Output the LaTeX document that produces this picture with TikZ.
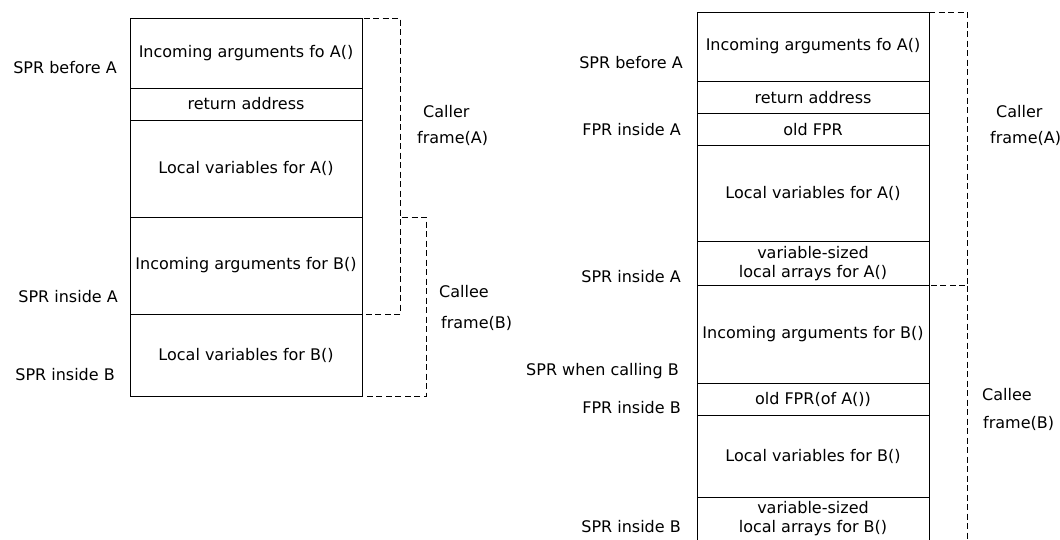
\documentclass[tikz,border=0pt]{standalone}
\usepackage{fontspec}
\setmainfont{DejaVu Sans}
\begin{document}
\begin{tikzpicture}[x=1pt,y=-1pt,
  every node/.style={font=\fontsize{16}{19}\selectfont},
  cell/.style={draw, line width=1pt, minimum width=232pt, inner sep=0pt, outer sep=0pt, anchor=north west, align=center},
  lbl/.style={anchor=east, inner sep=0pt},
  flbl/.style={anchor=west, inner sep=0pt},
  frame/.style={draw, dash pattern=on 6pt off 3.5pt, line width=1pt}]
\useasboundingbox (0,0) rectangle (1060,539);
% ---------- left stack ----------
\node[cell, minimum height=70pt] (a1) at (130,18) {Incoming arguments fo A()};
\node[cell, minimum height=32pt] (a2) at (a1.south west) {return address};
\node[cell, minimum height=97pt] (a3) at (a2.south west) {Local variables for A()};
\node[cell, minimum height=97pt] (a4) at (a3.south west) {Incoming arguments for B()};
\node[cell, minimum height=82pt] (a5) at (a4.south west) {Local variables for B()};
\node[lbl] (la1) at (117,68) {SPR before A};
\node[lbl] (la2) at (118,297) {SPR inside A};
\node[lbl] (la3) at (115,375) {SPR inside B};
\draw[frame] ([xshift=-27pt]a1.north east) -- ++(65,0) |- (a4.south east);
\draw[frame] ([xshift=40pt]a4.north east) -- ++(24,0) |- (a5.south east);
\node[flbl] (ca1) at (423,112) {Caller};
\node[flbl] (ca2) at (417,138) {frame(A)};
\node[flbl] (ce1) at (439,292) {Callee};
\node[flbl] (ce2) at (441,323) {frame(B)};
% ---------- right stack ----------
\node[cell, minimum height=69pt] (b1) at (697,12) {Incoming arguments fo A()};
\node[cell, minimum height=32.7pt] (b2) at (b1.south west) {return address};
\node[cell, minimum height=31.3pt] (b3) at (b2.south west) {old FPR};
\node[cell, minimum height=96.7pt] (b4) at (b3.south west) {Local variables for A()};
\node[cell, minimum height=44pt] (b5) at (b4.south west) {variable-sized\\local arrays for A()};
\node[cell, minimum height=97.6pt] (b6) at (b5.south west) {Incoming arguments for B()};
\node[cell, minimum height=31.7pt] (b7) at (b6.south west) {old FPR(of A())};
\node[cell, minimum height=82pt] (b8) at (b7.south west) {Local variables for B()};
\node[cell, minimum height=43pt] (b9) at (b8.south west) {variable-sized\\local arrays for B()};
\node[lbl] (lb1) at (683,63) {SPR before A};
\node[lbl] (lb2) at (681,130) {FPR inside A};
\node[lbl] (lb3) at (681,277) {SPR inside A};
\node[lbl] (lb4) at (679,371) {SPR when calling B};
\node[lbl] (lb5) at (681,408) {FPR inside B};
\node[lbl] (lb6) at (681,527) {SPR inside B};
\draw[frame] (b1.north east) -- ++(38,0) |- (b5.south east);
\coordinate (cend) at ([xshift=38pt,yshift=-270pt]b6.north east);
\draw[frame] ([xshift=38pt]b6.north east) -- (cend);
\node[flbl] (cb1) at (996,112) {Caller};
\node[flbl] (cb2) at (990,138) {frame(A)};
\node[flbl] (cd1) at (982,395) {Callee};
\node[flbl] (cd2) at (983,423) {frame(B)};
\end{tikzpicture}
\end{document}
